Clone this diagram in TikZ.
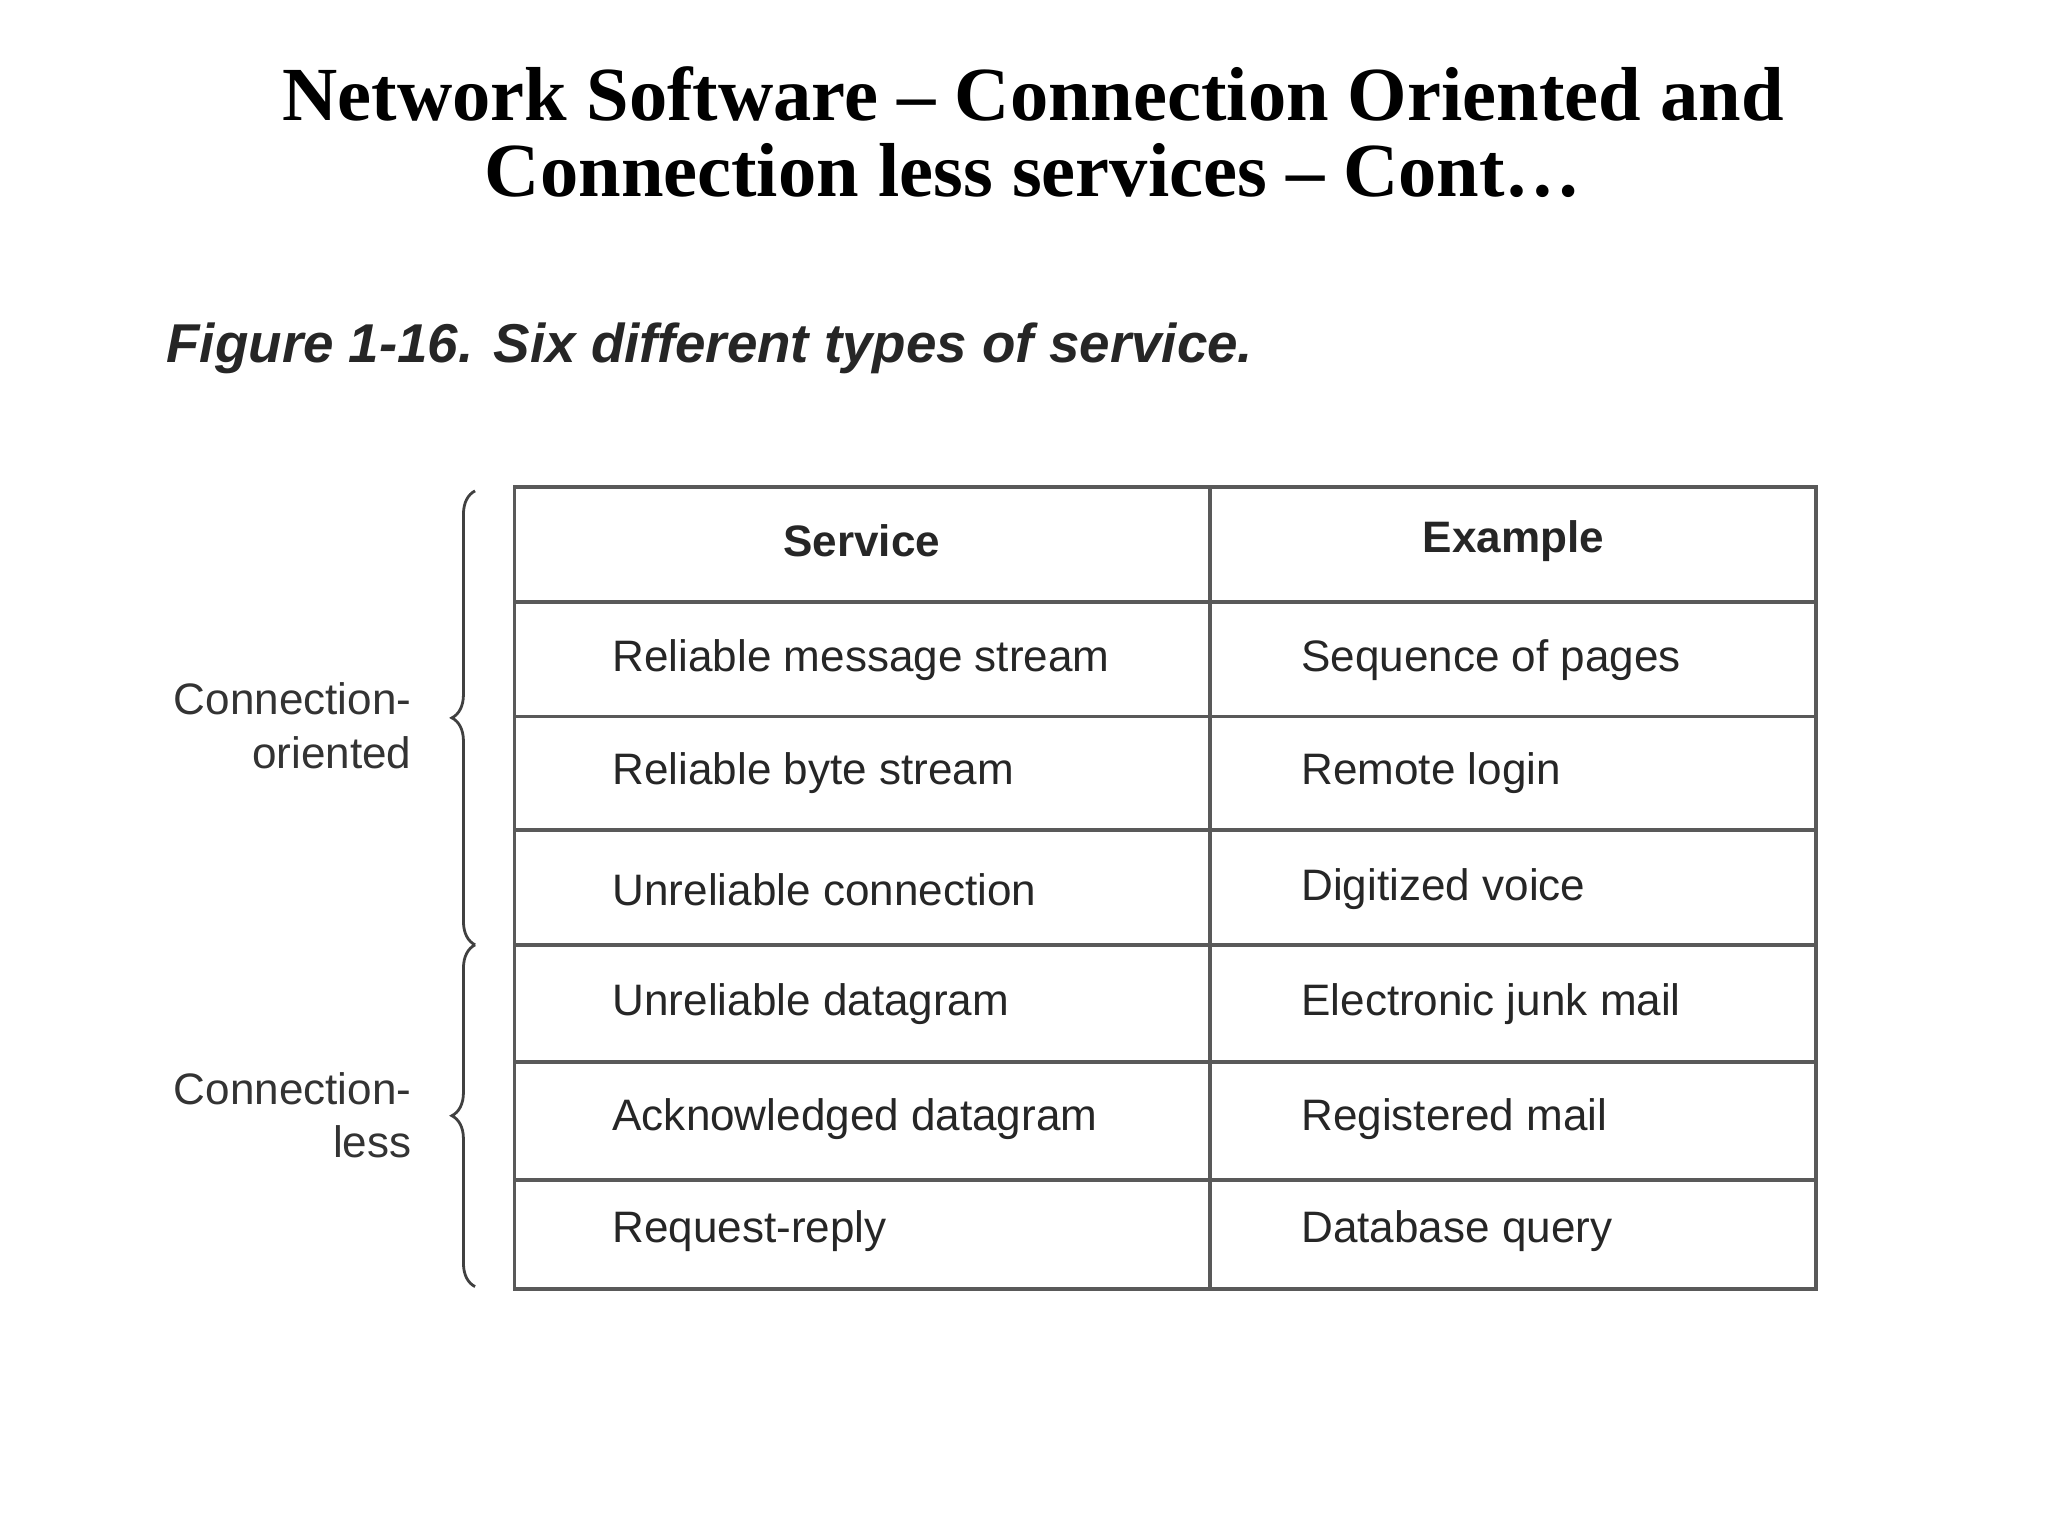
\documentclass[tikz,border=0pt]{standalone}
\usepackage{fontspec}
\setmainfont{Liberation Serif}
\setsansfont{Liberation Sans}
\usetikzlibrary{decorations.pathreplacing}
\begin{document}
\begin{tikzpicture}[x=0.02cm,y=-0.02cm,
  cell/.style={font=\sffamily\fontsize{19}{22}\selectfont,text=black!85,anchor=west},
  head/.style={font=\sffamily\bfseries\fontsize{19}{22}\selectfont,text=black!85},
  grid/.style={draw=black!65,line width=1.6pt},
  br/.style={draw=black!75,line width=1.2pt,decorate,decoration={brace,amplitude=10,mirror}},
  side/.style={font=\sffamily\fontsize{19}{23}\selectfont,text=black!80,align=right,anchor=east}]
\useasboundingbox (0,0) rectangle (1552,1164);
\node (t) [font=\bfseries\fontsize{33}{33}\selectfont,align=center] at (783,100) {Network Software -- Connection Oriented and\\Connection less services -- Cont\ldots};
\node (cap) [anchor=west,font=\sffamily\bfseries\itshape\fontsize{23.6}{26}\selectfont,text=black!85] at (120,264) {Figure 1-16. Six different types of service.};
\draw[grid] (390,369) rectangle (1376,977);
\draw[grid] (917,369) -- (917,977);
\foreach \y in {456,543,629,716,805,894} \draw[grid] (390,\y) -- (1376,\y);
\node[head] (h1) at (653,410) {Service};
\node[head] (h2) at (1147,410) {Example};
\foreach \y/\a/\b in {500/Reliable message stream/Sequence of pages,586/Reliable byte stream/Remote login,674/Unreliable connection/Digitized voice,761/Unreliable datagram/Electronic junk mail,848/Acknowledged datagram/Registered mail,933/Request-reply/Database query}{
  \node[cell] at (458,\y) {\a};
  \node[cell] at (980,\y) {\b};}
\coordinate (b1) at (360,372); \coordinate (b2) at (360,716); \coordinate (b3) at (360,975);
\draw[br] (b1) -- (b2);
\draw[br] (b2) -- (b3);
\node[side] (l1) at (318,550) {Connection-\\oriented};
\node[side] (l2) at (318,845) {Connection-\\less};
\end{tikzpicture}
\end{document}
